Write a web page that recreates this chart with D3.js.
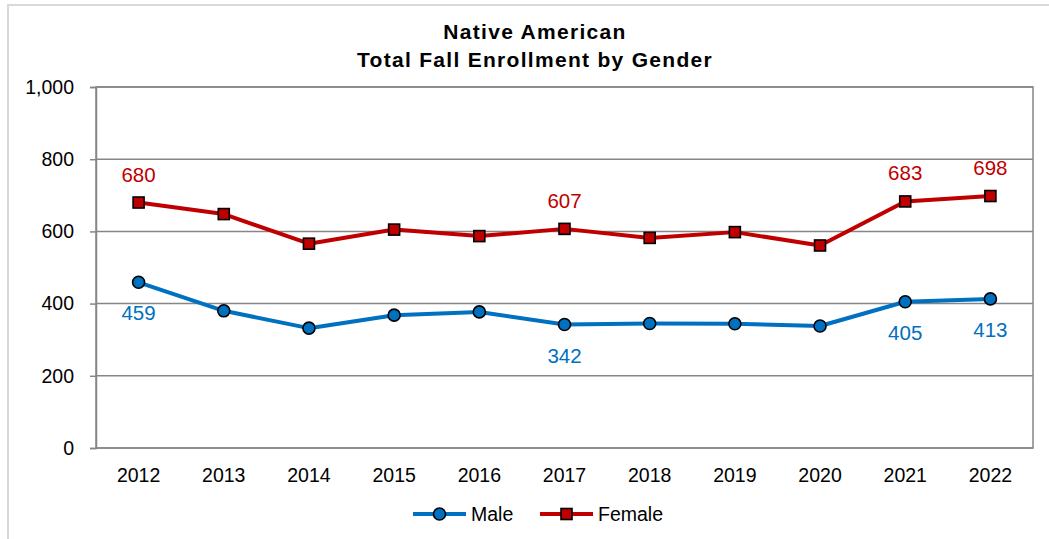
<!DOCTYPE html>
<html>
<head>
<meta charset="utf-8">
<script src="https://cdn.jsdelivr.net/npm/d3@7"></script>
<style>
  html, body { margin: 0; padding: 0; background: #fff; }
  svg { display: block; font-family: Arial, "Liberation Sans", sans-serif; }
</style>
</head>
<body>
<svg id="chart" width="1049" height="539"></svg>
<script>
// Enrollment by gender, fall terms 2012-2022
const years = ["2012", "2013", "2014", "2015", "2016", "2017", "2018", "2019", "2020", "2021", "2022"];
const male = [459, 380, 332, 368, 377, 342, 345, 344, 338, 405, 413];
const female = [680, 648, 566, 605, 587, 607, 582, 598, 561, 683, 698];
const labeledIdx = [0, 5, 9, 10];
const yTicks = [0, 200, 400, 600, 800, 1000];
const titleLines = ["Native American", "Total Fall Enrollment by Gender"];

const svg = d3.select("#chart");
const W = 1049, H = 539;
const plot = { left: 96, right: 1033, top: 87, bottom: 448 };

// outer frame (top and left edges visible)
svg.append("path")
  .attr("d", `M8,${H} L8,5 L${W},5`)
  .attr("fill", "none").attr("stroke", "#d9d9d9").attr("stroke-width", 2);

const x = d3.scaleBand().domain(years).range([plot.left, plot.right]);
const y = d3.scaleLinear().domain([0, 1000]).range([plot.bottom, plot.top]);
const cx = d => x(d) + x.bandwidth() / 2;

// horizontal gridlines
svg.append("g").selectAll("line").data(yTicks).join("line")
  .attr("x1", plot.left).attr("x2", plot.right)
  .attr("y1", d => y(d)).attr("y2", d => y(d))
  .attr("stroke", "#868686").attr("stroke-width", 1.5);

// plot frame
svg.append("rect")
  .attr("x", plot.left).attr("y", plot.top)
  .attr("width", plot.right - plot.left).attr("height", plot.bottom - plot.top)
  .attr("fill", "none").attr("stroke", "#868686").attr("stroke-width", 1.5);

// y axis
const yAxis = d3.axisLeft(y).tickValues(yTicks).tickSize(6).tickPadding(16)
  .tickFormat(d3.format(","));
const gy = svg.append("g").attr("transform", `translate(${plot.left},0)`).call(yAxis);
gy.select(".domain").attr("stroke", "#868686").attr("stroke-width", 1.5);
gy.selectAll(".tick line").attr("stroke", "#868686").attr("stroke-width", 1.5);
gy.selectAll(".tick text").attr("font-size", "19.5px").attr("fill", "#000")
  .attr("font-family", "Arial, 'Liberation Sans', sans-serif");

// x axis labels
const xAxis = d3.axisBottom(x).tickSize(0).tickPadding(20);
const gx = svg.append("g").attr("transform", `translate(0,${plot.bottom})`).call(xAxis);
gx.select(".domain").remove();
gx.selectAll(".tick text").attr("font-size", "19.5px").attr("fill", "#000")
  .attr("font-family", "Arial, 'Liberation Sans', sans-serif");

// title
svg.append("text")
  .attr("x", 535).attr("text-anchor", "middle")
  .attr("font-weight", "bold").attr("font-size", "21px")
  .attr("letter-spacing", "1.3px")
  .selectAll("tspan").data(titleLines).join("tspan")
  .attr("x", 535).attr("y", (d, i) => 39 + i * 28)
  .text(d => d);

const series = [
  { name: "Male", values: male, color: "#0070C0", shape: "circle", labelDy: 38 },
  { name: "Female", values: female, color: "#C00000", shape: "square", labelDy: -21 }
];

const line = d3.line().x((d, i) => cx(years[i])).y(d => y(d));

function drawMarker(g, shape, color, px, py) {
  if (shape === "circle") {
    g.append("circle").attr("cx", px).attr("cy", py).attr("r", 6)
      .attr("fill", color).attr("stroke", "#000").attr("stroke-width", 1.6);
  } else {
    g.append("rect").attr("x", px - 5.5).attr("y", py - 5.5)
      .attr("width", 11).attr("height", 11)
      .attr("fill", color).attr("stroke", "#000").attr("stroke-width", 1.6);
  }
}

series.forEach(s => {
  const g = svg.append("g");
  g.append("path").datum(s.values).attr("d", line)
    .attr("fill", "none").attr("stroke", s.color).attr("stroke-width", 4)
    .attr("stroke-linejoin", "round");
  s.values.forEach((v, i) => drawMarker(g, s.shape, s.color, cx(years[i]), y(v)));
  g.selectAll("text.lbl").data(labeledIdx).join("text")
    .attr("class", "lbl")
    .attr("x", i => cx(years[i]))
    .attr("y", i => y(s.values[i]) + s.labelDy)
    .attr("text-anchor", "middle").attr("font-size", "20.5px")
    .attr("fill", s.color)
    .text(i => s.values[i]);
});

// legend
const legend = svg.append("g");
const legendItems = [
  { name: "Male", color: "#0070C0", shape: "circle", x: 413 },
  { name: "Female", color: "#C00000", shape: "square", x: 540 }
];
legendItems.forEach(it => {
  const ly = 514;
  legend.append("line").attr("x1", it.x).attr("x2", it.x + 53)
    .attr("y1", ly).attr("y2", ly)
    .attr("stroke", it.color).attr("stroke-width", 4);
  drawMarker(legend, it.shape, it.color, it.x + 26.5, ly);
  legend.append("text").attr("x", it.x + 58).attr("y", ly + 7)
    .attr("font-size", "19.5px").attr("fill", "#000").text(it.name);
});
</script>
</body>
</html>
